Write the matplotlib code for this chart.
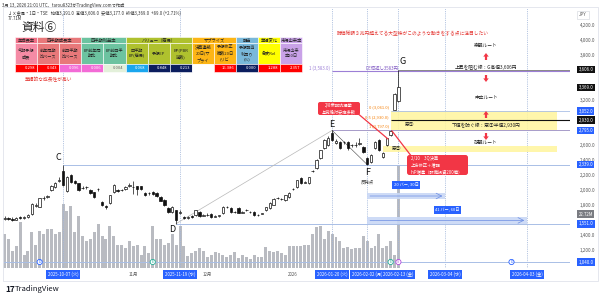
import matplotlib
matplotlib.use('Agg')
import matplotlib.pyplot as plt
from matplotlib.patches import Rectangle, FancyBboxPatch, FancyArrow
import numpy as np

plt.rcParams['font.family'] = ['Noto Sans CJK JP', 'DejaVu Sans']

# ---- daily bars, index 0 = 2025-10-07 (C) ----
first_bar = -15
opens = [1620, 1630, 1620, 1605, 1640, 1625, 1640, 1680, 1790, 1780, 1890, 1910, 2000, 2040, 2120,
         2250, 1990, 2200, 2120, 2090, 2030, 2040, 2000, 1970, 2010, 1840, 1790, 1830, 1970, 2000,
         1995, 2010, 2060, 2040, 2050, 2050, 1960, 1960, 1980, 1960, 1910, 1870, 1760, 1710, 1730,
         1700, 1640, 1630, 1650, 1670, 1710, 1660, 1670, 1680, 1645, 1655, 1693, 1770, 1760, 1705,
         1760, 1700, 1730, 1705, 1707, 1665, 1685, 1733, 1760, 1800, 1900, 1880, 1867, 1907, 2010,
         2040, 2160, 2100, 2093, 2250, 2293, 2427, 2560, 2600, 2760, 2627, 2640, 2640, 2640, 2595,
         2600, 2620, 2573, 2427, 2373, 2560, 2667, 2440, 2600, 2733, 3070, 3191]
highs = [1650, 1645, 1635, 1640, 1655, 1650, 1680, 1830, 1830, 1900, 1920, 1940, 2070, 2110, 2180,
         2339, 2190, 2220, 2140, 2100, 2050, 2060, 2010, 1980, 2030, 1860, 1800, 1940, 2080, 2010,
         2020, 2050, 2100, 2120, 2060, 2060, 1970, 1975, 1990, 1970, 1920, 1880, 1770, 1790, 1740,
         1730, 1660, 1650, 1665, 1740, 1720, 1680, 1690, 1690, 1665, 1670, 1785, 1790, 1770, 1720,
         1770, 1715, 1745, 1720, 1715, 1680, 1700, 1780, 1835, 1890, 1910, 1895, 1940, 1970, 2030,
         2140, 2170, 2120, 2180, 2265, 2410, 2540, 2680, 2720, 2795, 2680, 2660, 2660, 2650, 2620,
         2640, 2700, 2590, 2440, 2480, 2650, 2680, 2507, 2700, 2797, 3300, 3606]
lows = [1600, 1600, 1590, 1595, 1615, 1615, 1630, 1670, 1770, 1770, 1870, 1890, 1990, 2030, 2110,
        2060, 1980, 2100, 2080, 1990, 2010, 2020, 1950, 1900, 1990, 1790, 1750, 1820, 1960, 1980,
        1985, 2000, 2040, 1950, 1940, 2000, 1920, 1940, 1940, 1910, 1850, 1790, 1700, 1700, 1551,
        1680, 1610, 1615, 1630, 1660, 1640, 1650, 1655, 1630, 1635, 1645, 1685, 1760, 1700, 1695,
        1690, 1690, 1720, 1690, 1660, 1655, 1675, 1725, 1750, 1795, 1880, 1870, 1860, 1900, 2000,
        2030, 2080, 2090, 2085, 2240, 2285, 2420, 2550, 2590, 2650, 2610, 2550, 2620, 2540, 2580,
        2580, 2600, 2500, 2339, 2360, 2550, 2520, 2430, 2587, 2720, 3061, 3177]
closes = [1630, 1615, 1600, 1625, 1625, 1640, 1670, 1820, 1800, 1890, 1900, 1920, 2060, 2090, 2140,
          2070, 2170, 2110, 2100, 2000, 2025, 2035, 1960, 1910, 2020, 1800, 1780, 1930, 2070, 1990,
          2000, 2040, 2065, 2045, 2020, 2010, 1930, 1955, 1950, 1920, 1860, 1800, 1710, 1780, 1600,
          1710, 1630, 1640, 1640, 1730, 1650, 1667, 1665, 1640, 1650, 1660, 1773, 1775, 1707, 1712,
          1693, 1707, 1733, 1707, 1667, 1667, 1690, 1773, 1827, 1880, 1890, 1885, 1933, 1960, 2015,
          2133, 2093, 2110, 2173, 2255, 2400, 2533, 2667, 2693, 2667, 2650, 2560, 2645, 2560, 2600,
          2605, 2627, 2507, 2345, 2467, 2640, 2533, 2500, 2690, 2790, 3280, 3369]
volume_m = [25.9, 22.2, 12.6, 16.3, 34.8, 9.6, 12.6, 27.4, 17.0, 28.1, 25.9, 29.6, 29.6, 25.9, 27.4,
            48.1, 42.9, 46.6, 27.4, 39.2, 24.4, 20.7, 22.2, 27.4, 33.3, 24.4, 22.2, 31.8, 24.4, 17.0,
            17.0, 14.8, 20.0, 16.3, 17.0, 9.6, 16.3, 11.1, 31.8, 22.2, 22.2, 17.0, 18.5, 25.9, 17.0,
            31.8, 16.3, 8.9, 11.1, 12.6, 14.8, 12.6, 8.1, 9.6, 11.8, 11.1, 9.6, 8.1, 9.6, 11.8,
            7.4, 9.6, 8.1, 6.7, 9.6, 8.1, 8.1, 15.5, 12.6, 11.8, 12.6, 11.1, 9.6, 16.3, 16.3,
            16.3, 16.3, 17.0, 17.0, 25.9, 31.1, 31.8, 22.2, 28.1, 25.9, 23.7, 20.0, 14.8, 15.5, 14.1,
            14.8, 14.8, 24.4, 20.7, 14.8, 16.3, 25.9, 14.8, 16.3, 20.0, 9.6, 77.7]

# ---- marked points and levels ----
point_names = ["C", "D", "E", "F", "G"]
point_idx = [0, 29, 69, 78, 86]
level_C, level_D, level_E, level_G = 2339, 1551, 2795, 3606
level_de_double = 3583
gap1_top, gap1_mid = 3052, 2930
gap2_top, gap2_bot = 2587, 2507
base_level = 1040

date_idx = [0, 30, 69, 78, 86, 98, 119]
date_labels = ["2025-10-07 (火)", "2025-11-19 (水)", "2026-01-20 (火)", "2026-02-02 (月)",
               "2026-02-13 (金)", "2026-03-04 (水)", "2026-04-03 (金)"]
month_idx = [18, 37, 59]
month_labels = ["11月", "12月", "2026"]
price_ticks = [1200, 1400, 1800, 2000, 2200, 2400, 2600, 3200, 3800, 4000, 4200]
event_idx = [-6, 23, 84, 86, 115]
event_marks = ["D", "E", "E", "S", "D"]
event_colors = ["#2962FF", "#22AB94", "#22AB94", "#B24BDB", "#2962FF"]

# ---- factor table ----
group_names = ["年成長率", "四半期成長率", "四半期利益率", "バリュー（簡易）", "サプライズ", "配当", "業績変化", "市場出来率"]
group_spans = [1, 2, 2, 3, 2, 1, 1, 1]
group_colors = ["#EF6F86", "#E8787A", "#6CC3A0", "#AFC12E", "#FDB515", "#79B8DA", "#FFFF00", "#C9A2E8"]
col_labels = ["今期予想\n成長", "前年同期\n比ベース", "前四半期\n比ベース", "EP前年同\n期比", "EP前四半\n期比",
              "四半期\nEP(簡易)", "予想EP", "BP(PBR\n逆数)", "決算連続\n20日(サ\nプライ", "予想修正\n織数20日\n(リビ",
              "予想配当\n利回り\n(%)", "急変Rel", "市場出来\n率20日"]
col_colors = ["#F58BA5", "#E8787A", "#E8787A", "#6CC3A0", "#6CC3A0", "#AFC12E", "#AFC12E", "#AFC12E",
              "#FDB515", "#FDB515", "#79B8DA", "#FFFF00", "#C9A2E8"]
col_values = ["0.298", "0.343", "0.096", "0.006", "0.004", "0.068", "0.848", "0.213", "", "16.386",
              "0.000", "1.288", "2.357"]
value_colors = ["#FF0000", "#FF0000", "#F36BD6", "#F36BD6", "#E3F0DA", "#1AA6EE", "#0B1D5E", "#0B1D5E",
                "#FFFFFF", "#FF0000", "#0B1D5E", "#FF0000", "#FF0000"]

RED = "#F23645"
BLUE = "#2962FF"
LINE_BLUE = "#A9BFE6"

fig = plt.figure(figsize=(6, 2.99), dpi=100)
fig.patch.set_facecolor('white')
pos = [3 / 600, 1 - 268 / 299, 567 / 600, 260 / 299]
vax = fig.add_axes(pos)
ax = fig.add_axes(pos)
vax.set_zorder(0)
ax.set_zorder(1)
ax.patch.set_visible(False)

idx = np.arange(first_bar, first_bar + len(closes))
xlim = (-15.4, 130)

# volume
vax.bar(idx, volume_m, width=0.75, color='#B9BBC1', linewidth=0)
vax.set_xlim(*xlim)
vax.set_ylim(0, 196)
vax.axis('off')

# candles
o = np.array(opens); c = np.array(closes)
ax.vlines(idx, lows, highs, color='#111111', linewidth=0.5, zorder=3)
up = c >= o
body_lo = np.minimum(o, c)
body_h = np.maximum(np.abs(c - o), 6)
ax.bar(idx[up], body_h[up], bottom=body_lo[up], width=0.62, facecolor='white',
       edgecolor='#111111', linewidth=0.5, zorder=4)
ax.bar(idx[~up], body_h[~up], bottom=body_lo[~up], width=0.62, facecolor='#111111',
       edgecolor='#111111', linewidth=0.5, zorder=4)

ax.set_xlim(*xlim)
ax.set_ylim(960, 4427)
for s in ax.spines.values():
    s.set_visible(False)
ax.set_xticks([])
ax.yaxis.tick_right()
ax.set_yticks(price_ticks)
ax.set_yticklabels([f"{p:,.1f}" for p in price_ticks])
ax.tick_params(axis='y', length=0, labelsize=3.3, colors='#555555', pad=7)

# vertical date lines
for d in date_idx:
    ax.axvline(d, color='#9DB3D8', linewidth=0.6, linestyle=(0, (1, 1.2)), zorder=1)

# horizontal levels
xr = xlim[1]
ax.hlines(level_C, point_idx[0], xr, color=LINE_BLUE, linewidth=0.7, zorder=2)
ax.hlines(level_D, point_idx[1], xr, color=LINE_BLUE, linewidth=0.7, zorder=2)
ax.hlines(base_level, xlim[0], xr, color=LINE_BLUE, linewidth=0.7, zorder=2)
ax.hlines(level_E, point_idx[2], xr, color='#A79BC9', linewidth=0.7, zorder=2)
ax.hlines(level_de_double, point_idx[2], xr, color='#9C7FD6', linewidth=0.8, zorder=2)
ax.hlines(level_G, point_idx[4], xr, color='#777777', linewidth=0.6, zorder=2)

# gap bands
ax.fill_between([84, 126.7], level_E, gap1_top, color='#FFF59D', alpha=0.85, linewidth=0, zorder=1)
ax.hlines(gap1_top, 84, xr, color=LINE_BLUE, linewidth=0.6, zorder=2)
ax.hlines(gap1_mid, 84, xr, color='#111111', linewidth=0.8, zorder=2)
ax.fill_between([82, 126.7], gap2_bot, gap2_top, color='#FFF59D', alpha=0.85, linewidth=0, zorder=1)

# swing lines
ax.plot([point_idx[1], point_idx[2]], [level_D, level_E], color='#B8B8B8', linewidth=0.5, zorder=2)
ax.plot([point_idx[2], point_idx[3]], [level_E, level_C], color='#444444', linewidth=0.4, zorder=2)

# date ranges
ax.fill_between([78, 98], 1885, 1955, color='#C9D8F6', alpha=0.9, linewidth=0, zorder=2)
ax.annotate('', xy=(98, 1920), xytext=(78, 1920),
            arrowprops=dict(arrowstyle='->', color='#6B8DE3', lw=0.5), zorder=3)
ax.fill_between([78, 119], 1550, 1640, color='#C9D8F6', alpha=0.9, linewidth=0, zorder=2)
ax.annotate('', xy=(119, 1595), xytext=(78, 1595),
            arrowprops=dict(arrowstyle='->', color='#6B8DE3', lw=0.5), zorder=3)
ax.text(88, 2067, "20 バー, 30日", fontsize=3, color='white', ha='center', va='center', zorder=6,
        bbox=dict(boxstyle='square,pad=0.35', fc=BLUE, ec='none'))
ax.text(98.5, 1733, "41 バー, 60日", fontsize=3, color='white', ha='center', va='center', zorder=6,
        bbox=dict(boxstyle='square,pad=0.35', fc=BLUE, ec='none'))

# event markers
ax.scatter(event_idx, [base_level] * len(event_idx), s=14, facecolor='white',
           edgecolor=event_colors, linewidth=0.6, zorder=5, clip_on=False)
for e, m, col in zip(event_idx, event_marks, event_colors):
    ax.text(e, base_level, m, fontsize=2.6, color=col, ha='center', va='center', zorder=6)

# price-scale labels
ytr = ax.get_yaxis_transform()
price_boxes = [(level_G, "3,606.0", '#111111'), (closes[-1], "3,369.0", '#111111'),
               (gap1_top, "3,052.0", BLUE), (gap1_mid, "2,930.0", '#111111'),
               (level_E, "2,795.0", BLUE), (level_C, "2,339.0", BLUE),
               (level_D, "1,551.0", BLUE), (base_level, "1,040.0", BLUE)]
for p, s, col in price_boxes:
    ax.text(1.015, p, s, transform=ytr, fontsize=3.2, color='white', ha='left', va='center',
            clip_on=False, zorder=7, bbox=dict(boxstyle='square,pad=0.3', fc=col, ec='none'))
ax.text(1.015, 1680, "22.72M", transform=ytr, fontsize=3.2, color='white', ha='left', va='center',
        clip_on=False, zorder=7, bbox=dict(boxstyle='square,pad=0.3', fc='#7A7C82', ec='none'))

# time-scale labels
xtr = ax.get_xaxis_transform()
for m, s in zip(month_idx, month_labels):
    ax.text(m, -0.025, s, transform=xtr, fontsize=3.2, color='#555555', ha='center', va='center', clip_on=False)
for d, s in zip(date_idx, date_labels):
    ax.text(d, -0.025, s, transform=xtr, fontsize=3.1, color='white', ha='center', va='center',
            clip_on=False, zorder=7, bbox=dict(boxstyle='square,pad=0.35', fc=BLUE, ec='none'))

# point letters
letter_offsets = [(-1.3, 88), (-1, -71), (0, 72), (0, -99), (1, 113)]
anchors = [level_C, level_D, level_E, level_C, level_G]
for n, i, a, (dx, dy) in zip(point_names, point_idx, anchors, letter_offsets):
    ax.text(i + dx, a + dy, n, fontsize=6.5, color='#111111', ha='center', va='center', zorder=6)
ax.text(point_idx[3], level_C - 232, "反発点", fontsize=3.2, color='#444444', ha='center', va='center')

# ---- overlay in pixel coordinates ----
ov = fig.add_axes([0, 0, 1, 1])
ov.set_xlim(0, 600)
ov.set_ylim(299, 0)
ov.axis('off')
ov.set_zorder(5)

ov.add_patch(Rectangle((3, 7), 595, 274, fill=False, edgecolor='#E0E3EB', linewidth=0.6))
ov.text(2, 5, "3月 13, 2026 21:01 UTC、tarou8323がTradingView.comで作成", fontsize=3.1, color='#333333', va='center')
ov.text(8, 13, "ＪＸ金属・1日・TSE   始値3,191.0  高値3,606.0  安値3,177.0  終値3,369.0  +89.0 (+2.71%)",
        fontsize=3.1, color='#333333', va='center')
ov.text(8, 19, "77.71M", fontsize=3.1, color='#333333', va='center')
ov.text(583, 15, "JPY", fontsize=3.2, color='#555555', ha='center', va='center',
        bbox=dict(boxstyle='square,pad=0.4', fc='white', ec='#D0D3DA', lw=0.4))
ov.text(21, 27, "資料⑥", fontsize=8.5, color='#222222', va='center')

# table
x0, cw = 15, 22.1
r0, r1, r2, r3 = 37.3, 43.3, 64, 72
cx = x0
for name, span, col in zip(group_names, group_spans, group_colors):
    ov.add_patch(Rectangle((cx, r0), cw * span, r1 - r0, facecolor=col, edgecolor='white', linewidth=0.4))
    ov.text(cx + cw * span / 2, (r0 + r1) / 2, name, fontsize=3.1, color='#222222', ha='center', va='center')
    cx += cw * span
for k, (lab, col, val, vcol) in enumerate(zip(col_labels, col_colors, col_values, value_colors)):
    lx = x0 + k * cw
    ov.add_patch(Rectangle((lx, r1), cw, r2 - r1, facecolor=col, edgecolor='white', linewidth=0.4))
    ov.text(lx + cw / 2, (r1 + r2) / 2, lab, fontsize=3.0, color='#222222', ha='center', va='center',
            linespacing=1.5)
    ov.add_patch(Rectangle((lx, r2), cw, r3 - r2, facecolor=vcol, edgecolor='white', linewidth=0.4))
    tcol = '#666666' if vcol in ('#E3F0DA', '#FFFFFF') else 'white'
    ov.text(lx + cw - 2, (r2 + r3) / 2, val, fontsize=3.0, color=tcol, ha='right', va='center')
ov.text(25, 80, "業績的な成長性が高い", fontsize=3.4, color='#E53935', va='center')

# fib labels
ov.text(330, 68, "1 (3,583.0)", fontsize=3.1, color='#9C7FD6', ha='right', va='center')
ov.text(365, 68, "DE倍返し3583円", fontsize=3.2, color='#7E57C2', va='center')
ov.text(389, 107, "0 (3,061.0)", fontsize=3.0, color='#F57C00', ha='right', va='center')
ov.text(389, 117, "0.5 (2,930.0)", fontsize=3.0, color='#F57C00', ha='right', va='center')
ov.text(389, 126, "1 (2,797.0)", fontsize=3.0, color='#F57C00', ha='right', va='center')

# notes
ov.text(337, 33, "時価総額３兆円超えてる大型株がこのような動きをする点に注目したい", fontsize=3.4,
        color='#E53935', va='center')
ov.text(486, 45, "楽観ルート", fontsize=3.4, color='#222222', ha='center', va='center')
ov.text(486, 67, "上昇を阻む線：G高値3,606円", fontsize=3.4, color='#222222', ha='center', va='center')
ov.text(486, 97, "中立ルート", fontsize=3.4, color='#222222', ha='center', va='center')
ov.text(486, 125, "下値を防ぐ線：窓①半値2,930円", fontsize=3.4, color='#222222', ha='center', va='center')
ov.text(486, 142, "悲観ルート", fontsize=3.4, color='#222222', ha='center', va='center')
ov.text(410, 125, "窓①", fontsize=3.4, color='#222222', ha='center', va='center')
ov.text(397, 149, "窓②", fontsize=3.4, color='#222222', ha='center', va='center')
for y0, dy in [(60, -7), (75, 7), (118, -7), (133, 7)]:
    ov.add_patch(FancyArrow(486, y0, 0, dy, width=2.2, head_width=5.5, head_length=3.6,
                            length_includes_head=True, color=RED, linewidth=0))

# callouts
ov.plot([356, 388], [112, 139], color=RED, linewidth=0.9, solid_capstyle='round')
ov.add_patch(FancyBboxPatch((318, 102), 42, 13, boxstyle='round,pad=0,rounding_size=2',
                            facecolor=RED, edgecolor='none'))
ov.text(339, 108.5, "2/8衆議院選挙\n与党絶対安定多数", fontsize=3.1, color='white', ha='center', va='center',
        linespacing=1.3)
ov.plot([412, 392], [157, 131], color=RED, linewidth=0.9, solid_capstyle='round')
ov.add_patch(FancyBboxPatch((407, 155), 61, 20, boxstyle='round,pad=0,rounding_size=2.5',
                            facecolor=RED, edgecolor='none'))
ov.text(411, 165, "2/10　3Q決算\n上方修正＋増配\nInP増産（設備投資200億）", fontsize=3.1, color='white',
        ha='left', va='center', linespacing=1.3)

ov.text(5, 289, "17", fontsize=6, color='#131722', fontweight='bold', va='center')
ov.text(15, 289, "TradingView", fontsize=5.5, color='#131722', va='center')

fig.savefig('out.png', dpi=100, facecolor='white')
